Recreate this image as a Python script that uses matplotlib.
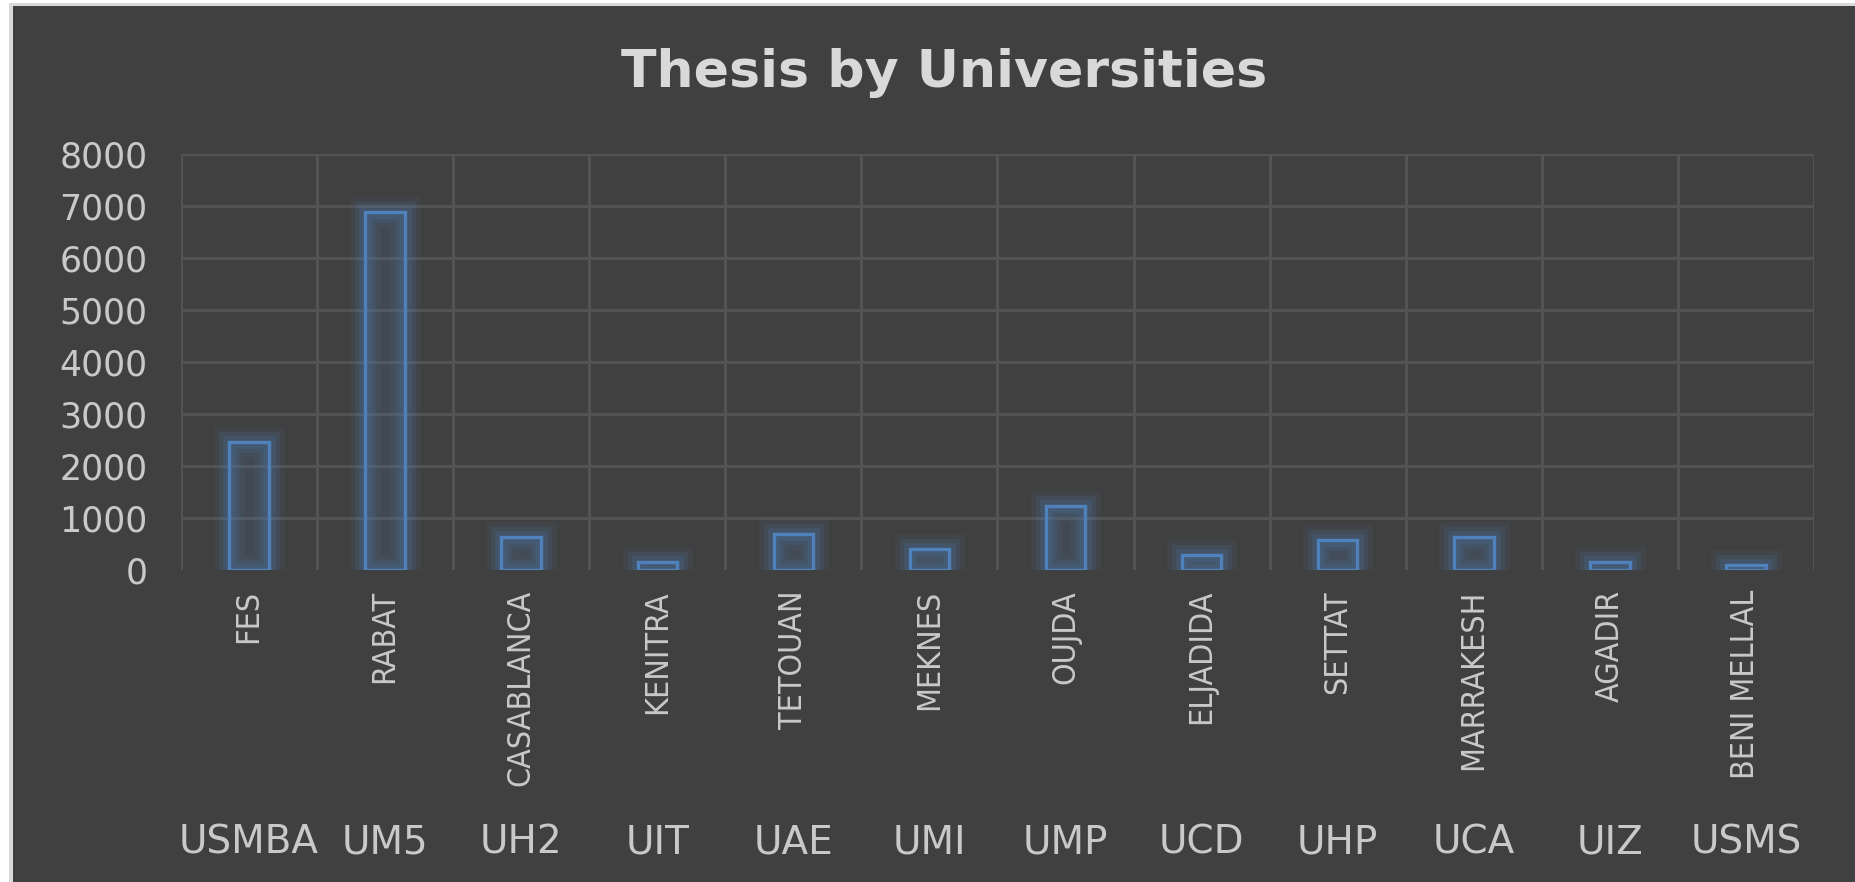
import matplotlib
matplotlib.use("Agg")
import matplotlib.pyplot as plt
from matplotlib.patches import Rectangle
from matplotlib.transforms import blended_transform_factory

# data
universities = ["USMBA", "UM5", "UH2", "UIT", "UAE", "UMI",
                "UMP", "UCD", "UHP", "UCA", "UIZ", "USMS"]
cities = ["FES", "RABAT", "CASABLANCA", "KENITRA", "TETOUAN", "MEKNES",
          "OUJDA", "ELJADIDA", "SETTAT", "MARRAKESH", "AGADIR", "BENI MELLAL"]
theses = [2460, 6880, 630, 150, 690, 400, 1230, 290, 580, 630, 150, 100]
y_ticks = [0, 1000, 2000, 3000, 4000, 5000, 6000, 7000, 8000]

BG = "#404040"
GRID = "#535353"
BLUE = "#4f81bd"
TXT = "#c9c9c9"

W, H = 1855, 882
fig = plt.figure(figsize=(W / 100, H / 100), dpi=100)
fig.patch.set_facecolor("white")
# chart area with the thin light border on the left / top
fig.patches.append(Rectangle((9 / W, 0), 1, (H - 3) / H, transform=fig.transFigure,
                             facecolor="#d9d9d9", edgecolor="none", zorder=-2))
fig.patches.append(Rectangle((13 / W, 0), 1, (H - 6) / H, transform=fig.transFigure,
                             facecolor=BG, edgecolor="none", zorder=-1))

ax = fig.add_axes([181 / W, (H - 570) / H, (1814 - 181) / W, (570 - 154) / H])
ax.set_facecolor("none")
n = len(cities)
x = list(range(n))

ax.set_xlim(-0.5, n - 0.5)
ax.set_ylim(0, 8000)
for yv in y_ticks[1:]:
    ax.axhline(yv, color=GRID, lw=2.2, zorder=0)
for k in range(n + 1):
    ax.plot([k - 0.5, k - 0.5], [0, 8000], color=GRID, lw=2.2, zorder=0,
            solid_capstyle="butt")

# glow around the bars
for lw, a in [(22, 0.08), (15, 0.12), (9, 0.17)]:
    ax.bar(x, theses, width=0.29, facecolor="none", edgecolor=BLUE,
           linewidth=lw, alpha=a, zorder=1)
ax.bar(x, theses, width=0.29, facecolor=(0.31, 0.51, 0.74, 0.15),
       edgecolor=BLUE, linewidth=2.4, zorder=2)

for s in ax.spines.values():
    s.set_visible(False)
ax.set_yticks(y_ticks)
ax.set_yticklabels([str(v) for v in y_ticks])
ax.tick_params(axis="y", length=0, pad=24, labelsize=25, labelcolor=TXT)
ax.set_xticks([])

# two-level category axis
trans = blended_transform_factory(ax.transData, fig.transFigure)
for i in x:
    ax.text(i, (H - 590) / H, cities[i], transform=trans, rotation=90,
            ha="center", va="top", fontsize=23, color=TXT,
            family="DejaVu Sans", fontstretch="condensed")
    ax.text(i, (H - 843) / H, universities[i], transform=trans,
            ha="center", va="center", fontsize=28, color=TXT,
            family="DejaVu Sans")

fig.text(944 / W, (H - 73) / H, "Thesis by Universities", ha="center",
         va="center", fontsize=37.5, fontweight="bold", color="#d9d9d9",
         family="DejaVu Sans")

fig.savefig("out.png", dpi=100, facecolor=fig.get_facecolor())
